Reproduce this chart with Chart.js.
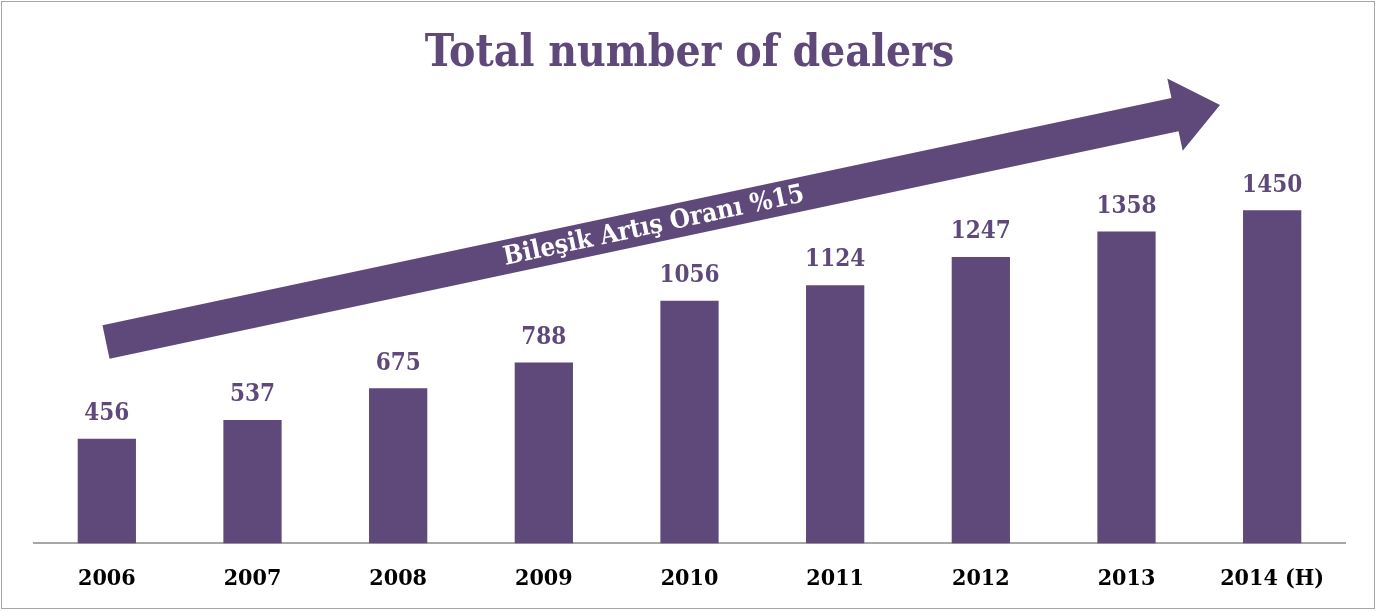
<!DOCTYPE html>
<html>
<head>
<meta charset="utf-8">
<script src="https://cdn.jsdelivr.net/npm/chart.js@4.4.1/dist/chart.umd.min.js"></script>
<style>
  body { margin: 0; background: #fff; }
  #wrap { position: relative; width: 1382px; height: 611px; }
  #frame { position: absolute; left: 1px; top: 1px; width: 1372px; height: 606px; border: 1.5px solid #a6a6a6; pointer-events: none; }
</style>
</head>
<body>
<div id="wrap">
  <canvas id="dealers-chart" width="1382" height="611"></canvas>
  <div id="frame"></div>
</div>
<script>
var years = ["2006", "2007", "2008", "2009", "2010", "2011", "2012", "2013", "2014 (H)"];
var dealers = [456, 537, 675, 788, 1056, 1124, 1247, 1358, 1450];
var arrowText = "Bileşik Artış Oranı %15";
var purple = "#5f497a";
var serif = "'DejaVu Serif Condensed', 'DejaVu Serif', 'Liberation Serif', serif";

// value labels above the bars
var valueLabels = {
  id: "valueLabels",
  afterDatasetsDraw: function(chart) {
    var ctx = chart.ctx;
    var meta = chart.getDatasetMeta(0);
    ctx.save();
    ctx.fillStyle = purple;
    ctx.font = "bold 24px " + serif;
    ctx.textAlign = "center";
    ctx.textBaseline = "bottom";
    meta.data.forEach(function(bar, i) {
      ctx.fillText(dealers[i], bar.x, bar.y - 13);
    });
    ctx.restore();
  }
};

// the big growth arrow
var growthArrow = {
  id: "growthArrow",
  afterDatasetsDraw: function(chart) {
    var ctx = chart.ctx;
    var x0 = 106, y0 = 342, x1 = 1220, y1 = 105;
    var ang = Math.atan2(y1 - y0, x1 - x0);
    var len = Math.sqrt((x1 - x0) * (x1 - x0) + (y1 - y0) * (y1 - y0));
    var half = 17, headLen = 46, headHalf = 37;
    ctx.save();
    ctx.translate(x0, y0);
    ctx.rotate(ang);
    ctx.fillStyle = purple;
    ctx.beginPath();
    ctx.moveTo(0, -half);
    ctx.lineTo(len - headLen, -half);
    ctx.lineTo(len - headLen, -headHalf);
    ctx.lineTo(len, 0);
    ctx.lineTo(len - headLen, headHalf);
    ctx.lineTo(len - headLen, half);
    ctx.lineTo(0, half);
    ctx.closePath();
    ctx.fill();
    ctx.fillStyle = "#ffffff";
    ctx.font = "bold 26px " + serif;
    ctx.textAlign = "center";
    ctx.textBaseline = "middle";
    ctx.fillText(arrowText, 560, 1);
    ctx.restore();
  }
};

new Chart(document.getElementById("dealers-chart"), {
  type: "bar",
  data: {
    labels: years,
    datasets: [{
      label: "Dealers",
      data: dealers,
      backgroundColor: purple,
      barPercentage: 0.8,
      categoryPercentage: 0.5
    }]
  },
  options: {
    responsive: false,
    animation: false,
    layout: { padding: { left: 34, right: 37, top: 0, bottom: 4 } },
    plugins: {
      legend: { display: false },
      tooltip: { enabled: false },
      title: {
        display: true,
        text: "Total number of dealers",
        color: purple,
        font: { family: serif, size: 44, weight: "bold" },
        padding: { top: 28, bottom: 17 }
      }
    },
    scales: {
      x: {
        grid: { display: false },
        border: { display: true, color: "#a6a6a6", width: 2 },
        ticks: {
          color: "#000000",
          font: { family: serif, size: 23, weight: "bold" },
          padding: 14,
          maxRotation: 0
        }
      },
      y: {
        display: false,
        min: 0,
        max: 1940
      }
    }
  },
  plugins: [growthArrow, valueLabels]
});
</script>
</body>
</html>
